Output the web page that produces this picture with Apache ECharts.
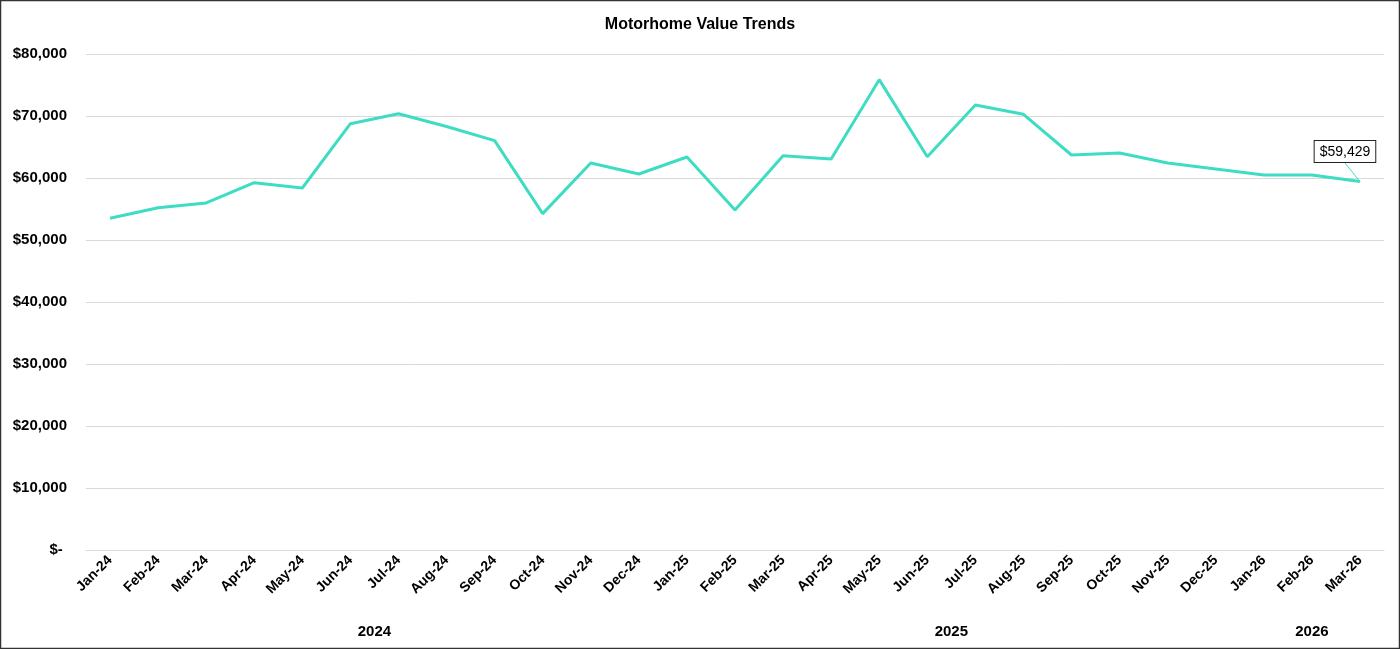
<!DOCTYPE html>
<html>
<head>
<meta charset="utf-8">
<title>Motorhome Value Trends</title>
<script src="https://cdn.jsdelivr.net/npm/echarts@6/dist/echarts.min.js"></script>
<style>
  html, body { margin: 0; padding: 0; background: #fff; }
  #main { width: 1400px; height: 649px; }
</style>
</head>
<body>
<div id="main"></div>
<script>
// data
var months = ['Jan-24', 'Feb-24', 'Mar-24', 'Apr-24', 'May-24', 'Jun-24', 'Jul-24', 'Aug-24', 'Sep-24',
    'Oct-24', 'Nov-24', 'Dec-24', 'Jan-25', 'Feb-25', 'Mar-25', 'Apr-25', 'May-25', 'Jun-25', 'Jul-25',
    'Aug-25', 'Sep-25', 'Oct-25', 'Nov-25', 'Dec-25', 'Jan-26', 'Feb-26', 'Mar-26'];
var values = [53500, 55210, 55970, 59250, 58390, 68760, 70370, 68300, 66020,
    54250, 62420, 60650, 63390, 54840, 63600, 63060, 75860, 63440, 71770,
    70270, 63710, 64030, 62420, 61450, 60480, 60480, 59429];
var years = ['2024', '2025', '2026'];
var yTicks = [0, 10000, 20000, 30000, 40000, 50000, 60000, 70000, 80000];

var FONT = 'Liberation Sans, Arial, sans-serif';
var LINE_COLOR = '#3EDDC3';

// centre of each year group, in category index units
var yearCenter = {};
years.forEach(function (y) {
    var idx = [];
    months.forEach(function (m, i) {
        if ('20' + m.slice(-2) === y) idx.push(i);
    });
    yearCenter[(idx[0] + idx[idx.length - 1]) / 2] = y;
});

function money(v) {
    if (v === 0) return '$- ';
    return '$' + v.toLocaleString('en-US');
}

var lastIdx = values.length - 1;
var seriesData = values.map(function (v, i) {
    if (i !== lastIdx) return v;
    // only the last point carries a callout label
    return {
        value: v,
        symbol: 'circle',
        symbolSize: 1,
        label: {
            show: true,
            position: 'top',
            distance: 4,
            formatter: function (p) { return money(p.value); },
            color: '#000',
            fontFamily: FONT,
            fontSize: 14,
            backgroundColor: '#fff',
            borderColor: '#222',
            borderWidth: 1,
            padding: [4, 5, 3, 5]
        },
        labelLine: { show: true, lineStyle: { color: LINE_COLOR, width: 1 } }
    };
});

var option = {
    backgroundColor: '#fff',
    animation: false,
    title: {
        text: 'Motorhome Value Trends',
        left: 'center',
        top: 12,
        textStyle: { fontFamily: FONT, fontSize: 16, fontWeight: 'bold', color: '#000' }
    },
    grid: { left: 86, right: 16, top: 54, bottom: 99 },
    xAxis: [
        {
            type: 'category',
            data: months,
            boundaryGap: true,
            axisLine: { lineStyle: { color: '#d9d9d9' } },
            axisTick: { show: false },
            axisLabel: {
                interval: 0,
                rotate: 45,
                margin: 8,
                color: '#000',
                fontFamily: FONT,
                fontSize: 14,
                fontWeight: 'bold'
            }
        },
        {
            // year row under the month labels
            type: 'value',
            position: 'bottom',
            offset: 66,
            min: -0.5,
            max: months.length - 0.5,
            interval: 0.5,
            axisLine: { show: false },
            axisTick: { show: false },
            splitLine: { show: false },
            axisLabel: {
                margin: 8,
                color: '#000',
                fontFamily: FONT,
                fontSize: 15,
                fontWeight: 'bold',
                formatter: function (v) { return yearCenter[v] || ''; }
            }
        }
    ],
    yAxis: {
        type: 'value',
        min: yTicks[0],
        max: yTicks[yTicks.length - 1],
        interval: yTicks[1] - yTicks[0],
        axisLine: { show: false },
        axisTick: { show: false },
        splitLine: { lineStyle: { color: '#d9d9d9', width: 1 } },
        axisLabel: {
            margin: 19,
            color: '#000',
            fontFamily: FONT,
            fontSize: 15,
            fontWeight: 'bold',
            formatter: money
        }
    },
    series: [
        {
            name: 'Value',
            type: 'line',
            xAxisIndex: 0,
            data: seriesData,
            symbol: 'none',
            showSymbol: true,
            lineStyle: { color: LINE_COLOR, width: 3 },
            itemStyle: { color: LINE_COLOR },
            labelLayout: function (params) {
                if (params.dataIndex === lastIdx) return { dx: -15, dy: -15 };
            }
        }
    ],
    graphic: [
        {
            type: 'rect',
            silent: true,
            z: 100,
            shape: { x: 0.5, y: 0.5, width: 1399, height: 648 },
            style: { fill: null, stroke: '#333', lineWidth: 1.5 }
        }
    ]
};

var myChart = echarts.init(document.getElementById('main'));
myChart.setOption(option);
</script>
</body>
</html>
